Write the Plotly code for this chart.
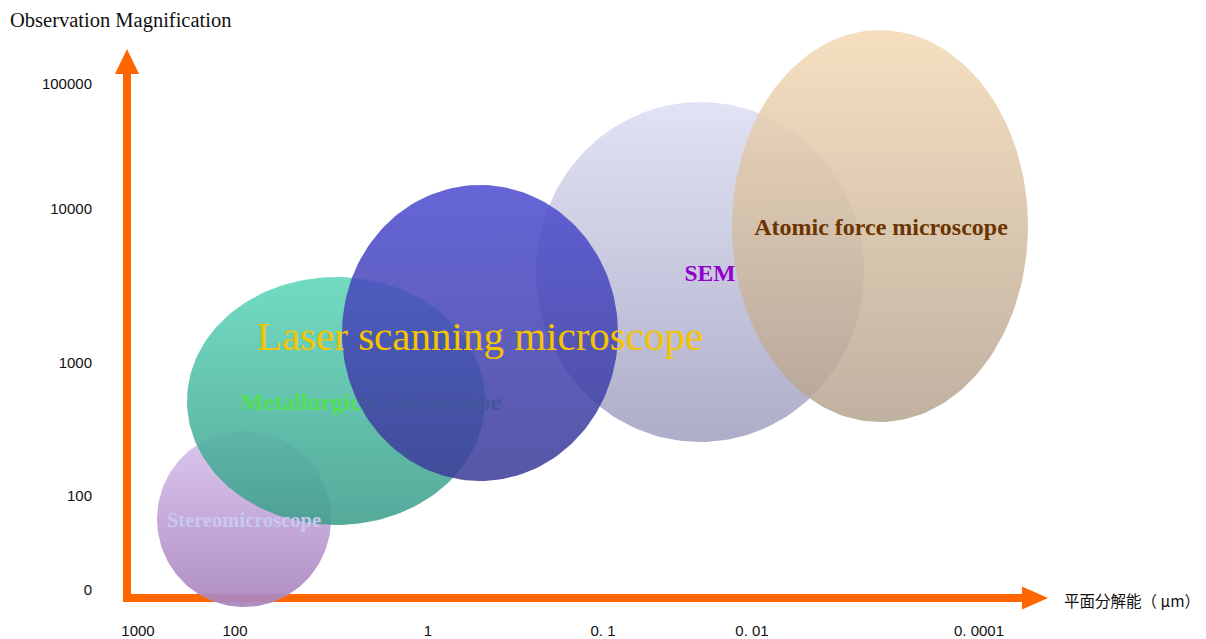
import numpy as np
import plotly.graph_objects as go

# Axis ticks (positions in scale units measured from the axis origin)
x_tick_pos = [11, 108, 301, 476, 625, 852]
x_tick_text = ["1000", "100", "1", "0. 1", "0. 01", "0. 0001"]
y_tick_pos = [8, 102, 235, 389, 514]
y_tick_text = ["0", "100", "1000", "10000", "100000"]

# Microscope coverage regions: centre and half-extents in scale units
names = ["Stereomicroscope", "Metallurgical microscope", "Laser scanning microscope",
         "SEM", "Atomic force microscope"]
center_x = [117, 209, 353, 573, 753]
center_y = [79, 197, 265, 326, 372]
half_w = [87, 149, 138, 164, 148]
half_h = [88, 124, 148, 170, 196]

# Label anchor points for each region
label_x = [117, 244, 353, 583, 754]
label_y = [76, 194, 258, 323, 369]

fill_top = ["rgba(218,196,238,0.92)", "rgba(96,214,186,0.88)", "rgba(76,76,208,0.86)",
            "rgba(222,222,244,0.86)", "rgba(244,218,182,0.86)"]
fill_bottom = ["rgba(168,132,190,0.92)", "rgba(62,158,140,0.88)", "rgba(60,60,152,0.86)",
               "rgba(160,160,192,0.86)", "rgba(182,164,146,0.86)"]
label_color = ["#c8c8f2", "#52e052", "#f4c400", "#9400cc", "#6b3400"]
label_size = [20.5, 24, 41, 23.5, 24]
label_weight = ["bold", "bold", "normal", "bold", "bold"]

ORANGE = "#ff6600"
SERIF = "Liberation Serif, Times New Roman, serif"
SANS = "Liberation Sans, Arial, Noto Sans CJK JP, sans-serif"


def ellipse_trace(i):
    t = np.linspace(0, 2 * np.pi, 181)
    xs = center_x[i] + half_w[i] * np.cos(t)
    ys = center_y[i] + half_h[i] * np.sin(t)
    return go.Scatter(
        x=xs, y=ys, mode="lines", fill="toself",
        line=dict(width=0, color="rgba(0,0,0,0)"),
        fillgradient=dict(type="vertical",
                          colorscale=[[0, fill_bottom[i]], [1, fill_top[i]]]),
        hoverinfo="skip", showlegend=False, name=names[i],
    )


def label_trace(i):
    return go.Scatter(
        x=[label_x[i]], y=[label_y[i]], mode="text", text=[names[i]],
        textposition="middle center",
        textfont=dict(family=SERIF, size=label_size[i], color=label_color[i],
                      weight=label_weight[i]),
        hoverinfo="skip", showlegend=False, cliponaxis=False,
    )


# Stacking order of regions and their labels
traces = [
    ellipse_trace(0), ellipse_trace(1), label_trace(0), label_trace(1),
    ellipse_trace(3), ellipse_trace(2), label_trace(2), label_trace(3),
    ellipse_trace(4), label_trace(4),
]

fig = go.Figure(traces)

# Orange axis arrows
shapes = [
    dict(type="line", xref="x", yref="y", x0=0, y0=-3, x1=0, y1=526,
         line=dict(color=ORANGE, width=8), layer="below"),
    dict(type="path", xref="x", yref="y", path="M -12 524 L 12 524 L 0 549 Z",
         fillcolor=ORANGE, line=dict(width=0), layer="below"),
    dict(type="line", xref="x", yref="y", x0=-4, y0=0, x1=897, y1=0,
         line=dict(color=ORANGE, width=8), layer="below"),
    dict(type="path", xref="x", yref="y", path="M 895 11.5 L 895 -11.5 L 921 0 Z",
         fillcolor=ORANGE, line=dict(width=0), layer="below"),
]

annotations = [
    dict(text="Observation Magnification", x=-0.0795, y=0.967, xref="paper", yref="paper",
         xanchor="left", yanchor="middle", showarrow=False,
         font=dict(family=SERIF, size=20.5, color="#111111")),
    dict(text="平面分解能（ μm）", x=935, y=-2, xref="x", yref="y",
         xanchor="left", yanchor="middle", showarrow=False,
         font=dict(family="Noto Sans CJK JP, sans-serif", size=15.5, color="#111111")),
]

fig.update_layout(
    width=1206, height=639,
    margin=dict(l=96, r=0, t=0, b=21),
    paper_bgcolor="white", plot_bgcolor="white",
    showlegend=False, hovermode=False,
    shapes=shapes, annotations=annotations,
    xaxis=dict(range=[-31, 1079], showgrid=False, zeroline=False, showline=False,
               tickmode="array", tickvals=x_tick_pos, ticktext=x_tick_text, ticks="",
               ticklabelstandoff=2,
               tickfont=dict(family=SANS, size=15, color="#111111"), fixedrange=True),
    yaxis=dict(range=[-20, 598], showgrid=False, zeroline=False, showline=False,
               tickmode="array", tickvals=y_tick_pos, ticktext=y_tick_text, ticks="",
               ticklabelstandoff=3,
               tickfont=dict(family=SANS, size=15, color="#111111"), fixedrange=True),
)

fig.write_html("out.html")
